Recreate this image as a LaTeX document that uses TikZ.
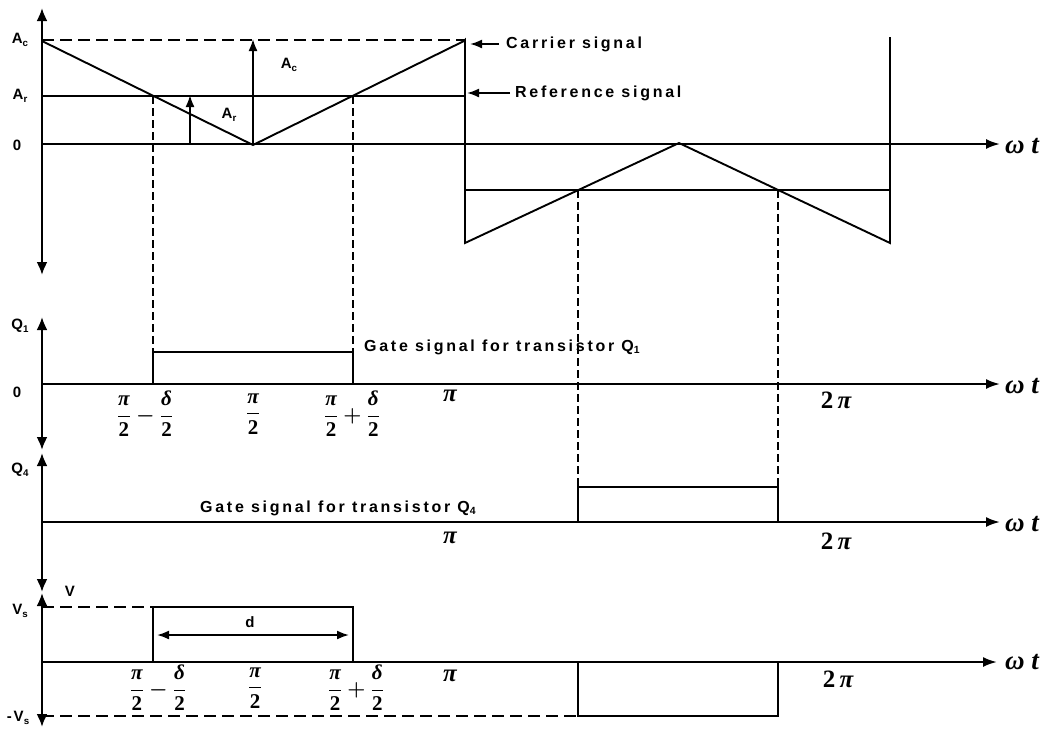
\documentclass[tikz,border=0pt]{standalone}
\usepackage{fontspec}
\usepackage{amsmath}
\usetikzlibrary{arrows.meta}
\setmainfont{Liberation Sans}
\newfontfamily\labfont[LetterSpace=13]{Liberation Sans}
\newfontfamily\txtfont[LetterSpace=17]{Liberation Sans}
\newfontfamily\serfont{Liberation Serif}
\newcommand\sbs[1]{\raisebox{-0.3ex}{\scalebox{0.65}{#1}}}
\newcommand\fnum[1]{\text{\serfont\bfseries\itshape #1}}
\newcommand\fden[1]{\text{\serfont\bfseries #1}}
\begin{document}
\begin{tikzpicture}[x=1pt,y=-1pt,
  tip/.style={-{Latex[length=12pt,width=9pt]}},
  axis/.style={line width=2.2pt,-{Latex[length=14pt,width=10pt]}},
  daxis/.style={line width=2.2pt,{Latex[length=13pt,width=11pt]}-{Latex[length=13pt,width=11pt]}},
  sig/.style={line width=1.9pt},
  hdash/.style={line width=1.9pt,dash pattern=on 12pt off 6pt},
  vdash/.style={line width=1.9pt,dash pattern=on 8pt off 4pt},
  lab/.style={font=\labfont\bfseries\fontsize{15}{17}\selectfont,inner sep=0pt},
  txt/.style={font=\txtfont\bfseries\fontsize{16}{18}\selectfont,inner sep=0pt,anchor=west},
  wt/.style={font=\serfont\bfseries\itshape\fontsize{27}{29}\selectfont,inner sep=0pt},
  pil/.style={font=\serfont\bfseries\fontsize{25}{27}\selectfont,inner sep=0pt},
  frac/.style={font=\boldmath\fontsize{21}{23}\selectfont,inner sep=0pt}]
\useasboundingbox (0,0) rectangle (1060,729);

% ---------- top panel ----------
\coordinate (c0) at (42,41);
\coordinate (c1) at (253,145);
\coordinate (c2) at (464,41);
\coordinate (c3) at (465,243);
\coordinate (c4) at (679,143);
\coordinate (c5) at (890,243);
\coordinate (c6) at (890,37);
\draw[daxis] (42,275) -- (42,8);
\draw[axis] (42,144) -- (1000,144);
\draw[hdash] (42,40) -- (465,40);
\draw[sig] (c0) -- (c1) -- (c2) -- (465,40) -- (c3) -- (c4) -- (c5) -- (c6);
\draw[sig] (42,96) -- (465,96);
\draw[sig] (465,190) -- (890,190);
\draw[sig,tip] (190,144) -- (190,95);
\draw[sig,tip] (253,144) -- (253,39);
\coordinate (ca) at (499,44);
\coordinate (cb) at (470,44);
\draw[sig,tip] (ca) -- (cb);
\coordinate (ra) at (510,93);
\coordinate (rb) at (467,93);
\draw[sig,tip] (ra) -- (rb);
\node[lab] (tAc) at (20,40) {A\sbs{c}};
\node[lab] (tAr) at (20,96) {A\sbs{r}};
\node[lab] (t0) at (17,145) {0};
\node[lab] (tAc2) at (289,65) {A\sbs{c}};
\node[lab] (tAr2) at (229,115) {A\sbs{r}};
\node[txt] (tcar) at (506,44) {Carrier signal};
\node[txt] (tref) at (515,93) {Reference signal};
\node[wt] (wt1) at (1022,146) {ω t};

% dashed guides
\draw[vdash] (153,96) -- (153,384);
\draw[vdash] (353,96) -- (353,384);
\draw[vdash] (578,190) -- (578,487);
\draw[vdash] (778,190) -- (778,487);

% ---------- Q1 panel ----------
\draw[daxis] (42,450) -- (42,317);
\draw[axis] (42,384) -- (1000,384);
\draw[sig] (153,384) -- (153,352) -- (353,352) -- (353,384);
\node[lab] (tQ1) at (20,326) {Q\sbs{1}};
\node[lab] (t01) at (17,392) {0};
\node[txt] (tg1) at (364,347) {Gate signal for transistor Q\sbs{1}};
\node[frac] (f1) at (145,414) {$\dfrac{\fnum{π}}{\fden{2}}-\dfrac{\fnum{δ}}{\fden{2}}$};
\node[frac] (f2) at (253,414) {$\dfrac{\fnum{π}}{\fden{2}}$};
\node[frac] (f3) at (352,414) {$\dfrac{\fnum{π}}{\fden{2}}+\dfrac{\fnum{δ}}{\fden{2}}$};
\node[pil] (p1) at (450,396) {\itshape π};
\node[pil] (pp1) at (836,400) {2\,\itshape π};
\node[wt] (wt2) at (1022,386) {ω t};

% ---------- Q4 panel ----------
\draw[daxis] (42,592) -- (42,453);
\draw[axis] (42,522) -- (1000,522);
\draw[sig] (578,522) -- (578,487) -- (778,487) -- (778,522);
\node[lab] (tQ4) at (20,470) {Q\sbs{4}};
\node[txt] (tg4) at (200,508) {Gate signal for transistor Q\sbs{4}};
\node[pil] (p2) at (450,538) {\itshape π};
\node[pil] (pp2) at (836,541) {2\,\itshape π};
\node[wt] (wt3) at (1022,524) {ω t};

% ---------- V panel ----------
\draw[daxis] (42,727) -- (42,593);
\draw[axis] (42,662) -- (997,662);
\draw[hdash] (42,607) -- (153,607);
\draw[hdash] (42,716) -- (578,716);
\draw[sig] (153,662) -- (153,607) -- (353,607) -- (353,662);
\draw[sig] (578,662) -- (578,716) -- (778,716) -- (778,662);
\coordinate (da) at (157,635);
\coordinate (db) at (349,635);
\draw[sig,{Latex[length=12pt,width=9pt]}-{Latex[length=12pt,width=9pt]}] (da) -- (db);
\node[lab] (td) at (250,622) {d};
\node[lab] (tV) at (70,591) {V};
\node[lab] (tVs) at (20,611) {V\sbs{s}};
\node[lab] (tmVs) at (18,718) {-V\sbs{s}};
\node[frac] (f4) at (158,688) {$\dfrac{\fnum{π}}{\fden{2}}-\dfrac{\fnum{δ}}{\fden{2}}$};
\node[frac] (f5) at (255,688) {$\dfrac{\fnum{π}}{\fden{2}}$};
\node[frac] (f6) at (356,688) {$\dfrac{\fnum{π}}{\fden{2}}+\dfrac{\fnum{δ}}{\fden{2}}$};
\node[pil] (p3) at (450,676) {\itshape π};
\node[pil] (pp3) at (838,679) {2\,\itshape π};
\node[wt] (wt4) at (1022,662) {ω t};
\end{tikzpicture}
\end{document}
